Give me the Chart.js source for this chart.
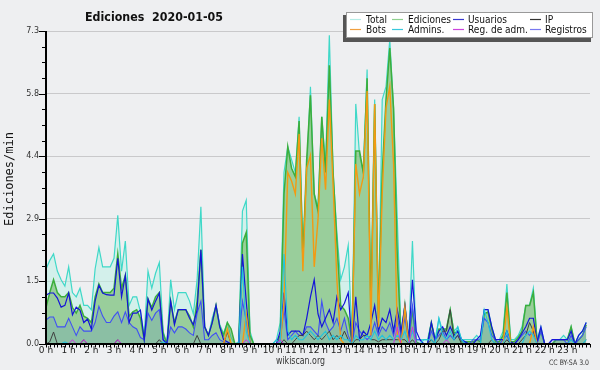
<!DOCTYPE html>
<html>
<head>
<meta charset="utf-8">
<script src="https://cdn.jsdelivr.net/npm/chart.js@4.4.1/dist/chart.umd.min.js"></script>
<style>
  html, body { margin: 0; padding: 0; background: #eeeff1; }
  #box { width: 600px; height: 370px; }
</style>
</head>
<body>
<div id="box"><canvas id="chart" width="600" height="370"></canvas></div>
<script>
// 10-minute slots, 0 h .. 23:50
const minutes = Array.from({ length: 144 }, (_, i) => i * 10);
const hourLabels = ['0 h','1 h','2 h','3 h','4 h','5 h','6 h','7 h','8 h','9 h','10 h','11 h',
  '12 h','13 h','14 h','15 h','16 h','17 h','18 h','19 h','20 h','21 h','22 h','23 h'];
const yTicks = [0, 1.46, 2.92, 4.38, 5.84, 7.3];
const yTickLabels = ['0.0', '1.5', '2.9', '4.4', '5.8', '7.3'];

const total = [
  1.75,1.95,2.1,1.7,1.5,1.35, 1.8,1.2,1.1,1.3,0.9,0.9,
  0.8,1.75,2.25,1.8,1.8,1.8, 2.0,3.0,1.7,2.4,0.9,1.1,
  1.1,0.75,0.2,1.7,1.3,1.65, 1.9,0.3,0,1.5,0.8,1.2,
  1.2,1.2,1.0,0.7,1.5,3.2, 0.4,0.2,0.6,0.9,0.45,0.25,
  0.5,0.15,0,0.05,3.1,3.35, 0.3,0,0,0,0,0,
  0,0.1,0.5,4.0,4.6,4.3, 4.0,5.3,2.2,4.0,6.0,3.5,
  3.2,5.3,4.2,7.2,4.0,2.6, 1.5,1.8,2.3,0.1,5.6,4.4,
  4.0,6.4,0.6,5.7,0.6,5.7, 6.0,7.1,5.5,2.9,0.2,0.9,
  0.1,2.4,0.1,0.1,0.1,0.1, 0.5,0.1,0.6,0.3,0.35,0.8,
  0.3,0.4,0.1,0.1,0.1,0.1, 0.2,0.1,0.8,0.8,0.4,0.1,
  0.1,0.3,1.4,0.1,0.1,0.2, 0.4,0.9,0.9,1.3,0.1,0.4,
  0,0,0,0.1,0.1,0.2, 0.1,0.4,0,0.2,0.3,0.5
];
const ediciones = [
  0.85,1.2,1.5,1.2,1.1,1.1, 1.2,0.85,0.72,0.9,0.65,0.6,
  0.5,1.1,1.4,1.2,1.2,1.2, 1.3,2.1,1.3,1.6,0.65,0.75,
  0.8,0.6,0.1,1.05,0.85,1.1, 1.2,0.25,0,1.0,0.5,0.8,
  0.8,0.8,0.65,0.4,1.0,2.2, 0.4,0.2,0.5,0.9,0.4,0.2,
  0.5,0.35,0,0,2.35,2.6, 0.2,0,0,0,0,0,
  0,0,0.2,3.5,4.6,4.1, 3.9,5.2,2.0,4.3,5.8,3.5,
  3.1,5.3,4.0,6.5,4.0,2.4, 0.9,0.8,0.6,0.05,4.5,4.5,
  4.0,6.2,0.8,5.6,0.6,4.0, 5.7,6.9,5.5,2.0,0.1,0.9,
  0.05,0.8,0.05,0,0,0, 0.5,0.1,0.35,0.35,0.35,0.8,
  0.25,0.3,0.05,0.05,0.05,0.05, 0.1,0.05,0.7,0.75,0.35,0.05,
  0.05,0.2,1.2,0.05,0.05,0.15, 0.3,0.9,0.9,1.2,0.05,0.3,
  0,0,0,0.1,0.1,0.1, 0.1,0.4,0,0.1,0.2,0.45
];
const usuarios = [
  1.14,1.19,1.19,1.07,0.86,0.9, 1.19,0.68,0.86,0.79,0.5,0.58,
  0.35,1.0,1.37,1.19,1.15,1.14, 1.14,2.0,1.1,1.6,0.5,0.72,
  0.72,0.79,0.1,1.05,0.79,1.0, 1.19,0.1,0,1.0,0.45,0.8,
  0.8,0.8,0.6,0.45,0.8,2.2, 0.4,0.2,0.5,0.9,0.4,0.1,
  0.05,0,0,0,2.1,1.0, 0,0,0,0,0,0,
  0,0,0.3,1.2,0.2,0.3, 0.3,0.3,0.2,0.6,1.1,1.5,
  0.7,0.4,0.6,0.8,0.5,1.1, 0.8,0.95,1.2,0,1.1,0.1,
  0.3,0.2,0.5,0.9,0.3,0.6, 0.5,0.8,0.3,0.8,0.3,0.9,
  0.1,1.5,0.3,0.1,0,0, 0.5,0.1,0.3,0.4,0.2,0.4,
  0.2,0.3,0.1,0.05,0,0, 0.1,0.2,0.8,0.8,0.4,0.1,
  0.1,0.1,0.3,0.05,0,0.1, 0.25,0.4,0.6,0.6,0.05,0.4,
  0,0,0.1,0.1,0.1,0.1, 0.1,0.3,0,0.2,0.3,0.5
];
const ip = [
  0,0.05,0.28,0,0,0, 0,0,0,0,0.1,0,
  0,0,0,0,0,0, 0,0.1,0,0,0,0,
  0,0,0,0,0,0, 0.1,0,0,0,0,0,
  0,0,0,0,0.2,0, 0,0,0,0,0,0,
  0.28,0,0,0,0,0, 0,0,0,0,0,0,
  0,0,0,0.1,0,0, 0.1,0.2,0.2,0.3,0.2,0.1,
  0.2,0.1,0.2,0.3,0.1,0.2, 0.1,0.3,0.1,0,0.1,0.1,
  0.2,0.2,0.1,0.1,0.05,0.1, 0.1,0.1,0.1,0.1,0.1,0.1,
  0,0.1,0,0,0,0, 0.1,0,0.1,0.3,0.3,0.8,
  0.1,0.2,0,0,0,0, 0,0,0,0,0.1,0,
  0,0,0.1,0,0,0, 0.1,0.2,0.5,0.3,0,0,
  0,0,0,0,0,0, 0,0.1,0,0,0,0.1
];
const bots = [
  0,0,0,0,0,0, 0,0,0,0,0,0,
  0,0,0,0,0,0, 0,0,0,0,0,0,
  0,0,0,0,0,0, 0,0,0,0,0,0,
  0,0,0,0,0,0, 0,0,0,0,0,0,
  0.35,0,0,0,0,0.7, 0,0,0,0,0,0,
  0,0,0,1.0,4.0,3.8, 3.5,4.9,1.7,4.1,4.4,1.8,
  2.9,4.8,3.6,5.7,3.7,1.5, 0.1,0,0,0,4.2,3.5,
  3.9,5.9,0.2,5.6,0.4,3.5, 5.5,6.0,4.2,0.2,0,0.85,
  0,0,0,0,0,0, 0,0,0,0,0,0,
  0,0,0,0,0,0, 0,0,0,0,0,0,
  0,0,0.85,0,0,0, 0,0,0,0.4,0,0,
  0,0,0,0,0,0, 0,0,0,0,0,0
];
const admins = [
  0,0,0,0,0,0.05, 0,0,0,0,0,0,
  0,0,0,0,0,0, 0,0,0,0,0,0,
  0,0,0,0,0,0, 0,0.05,0,0,0,0,
  0,0,0,0,0,0, 0,0,0,0,0,0,
  0,0,0,0,1.8,0.3, 0,0,0,0,0,0,
  0,0.1,0,2.1,0.3,0.1, 0.2,0.1,0.1,0.2,0.3,0.2,
  0.1,0.2,0.3,0.1,0.2,0.1, 0.2,0.1,0.1,0,0.2,0.1,
  0.1,0.2,0.1,0.3,0.1,0.2, 0.1,0.2,0.1,0.2,0.1,0.3,
  0,0.3,0,0,0.1,0.1, 0.1,0,0.6,0.2,0.1,0.3,
  0.1,0.4,0.1,0,0,0, 0,0,0.8,0.5,0.1,0,
  0,0,0.3,0,0,0, 0,0.2,0.3,0.2,0,0,
  0,0,0,0,0,0, 0,0.1,0,0,0,0.1
];
const regAdm = [
  0,0,0,0,0,0, 0,0.1,0,0,0.1,0,
  0,0,0,0,0,0, 0,0.1,0,0,0,0,
  0,0,0,0,0,0, 0,0,0,0,0,0,
  0,0,0,0,0,0, 0,0,0,0,0,0,
  0,0,0,0,0,0.1, 0,0,0,0,0,0,
  0,0,0.1,0,0,0, 0,0,0,0,0,0,
  0,0,0,0,0,0, 0,0,0,0,0,0,
  0,0,0,0,0,0, 0,0,0,0.4,0,0,
  0,0.4,0,0,0,0, 0,0,0,0,0.1,0,
  0,0,0,0,0,0, 0,0,0,0,0,0,
  0,0,0,0,0,0, 0,0,0,0,0,0,
  0,0,0,0,0,0, 0,0,0,0,0,0
];
const registros = [
  0.56,0.63,0.63,0.4,0.4,0.4, 0.6,0.4,0.2,0.4,0.3,0.3,
  0.3,0.5,0.88,0.65,0.5,0.5, 0.65,0.75,0.5,0.75,0.5,0.4,
  0.35,0.15,0.1,0.72,0.55,0.72, 0.8,0.1,0,0.4,0.26,0.4,
  0.4,0.35,0.26,0.2,0.72,1.0, 0.1,0.1,0.2,0.26,0.1,0.05,
  0,0,0,0,1.0,0.55, 0,0,0,0,0,0,
  0,0,0.1,0.8,0.1,0.2, 0.3,0.2,0.2,0.4,0.4,0.3,
  0.2,1.0,0.5,0.3,0.4,0.6, 0.3,0.6,0.2,0,0.5,0.3,
  0.2,0.1,0.2,0.5,0.2,0.4, 0.3,0.5,0.2,0.6,0.2,0.6,
  0.1,0.9,0.1,0.1,0,0, 0.3,0.1,0.2,0.3,0.1,0.2,
  0.1,0.2,0.1,0,0,0.1, 0.1,0.1,0.6,0.5,0.2,0.1,
  0,0.1,0.2,0,0,0.1, 0.2,0.3,0.2,0.3,0,0.3,
  0,0,0.1,0.1,0.1,0.1, 0,0.2,0,0.1,0.2,0.4
];

const legendItems = [
  ['Total', '#b4ece6'], ['Ediciones', '#8fd08f'], ['Usuarios', '#3838d0'], ['IP', '#333333'],
  ['Bots', '#f0a040'], ['Admins.', '#38c8dc'], ['Reg. de adm.', '#cc44dd'], ['Registros', '#7878f0']
];

const pts = arr => arr.map((v, i) => ({ x: minutes[i], y: v }));

function line(label, data, color, width, fill, order) {
  return {
    label, data: pts(data), borderColor: color, borderWidth: width,
    backgroundColor: fill || 'transparent', fill: fill ? 'origin' : false,
    pointRadius: 0, tension: 0, order
  };
}

// text squeezed to a measured width, the original face is narrower than DejaVu
function fitText(c, txt, x, y, w) {
  const m = c.measureText(txt).width;
  c.save();
  c.translate(x, y);
  c.scale(w / m, 1);
  c.fillText(txt, 0, 0);
  c.restore();
}

const decor = {
  id: 'decor',
  beforeDraw(chart) {
    const c = chart.ctx;
    c.save();
    c.fillStyle = '#eeeff1';
    c.fillRect(0, 0, chart.width, chart.height);
    c.restore();
  },
  afterDraw(chart) {
    const c = chart.ctx;
    const xs = chart.scales.x, ys = chart.scales.y;
    const a = chart.chartArea;
    c.save();
    // minor ticks
    c.strokeStyle = '#000';
    c.lineWidth = 1;
    c.beginPath();
    for (let m = 0; m <= 1440; m += 10) {
      const px = Math.round(xs.getPixelForValue(m)) + 0.5;
      c.moveTo(px, a.bottom); c.lineTo(px, a.bottom + 3.5);
    }
    for (let k = 0; k <= 20; k++) {
      const py = Math.round(ys.getPixelForValue(k * 0.365)) + 0.5;
      c.moveTo(a.left, py); c.lineTo(a.left - (k % 4 === 0 ? 7 : 4), py);
    }
    c.stroke();
    // axes
    c.lineWidth = 2;
    c.beginPath();
    c.moveTo(a.left, a.top); c.lineTo(a.left, a.bottom + 1);
    c.moveTo(a.left - 1, a.bottom); c.lineTo(a.right, a.bottom);
    c.stroke();

    // title
    c.fillStyle = '#111';
    c.textBaseline = 'alphabetic';
    c.textAlign = 'left';
    c.font = 'bold 12.5px "DejaVu Sans"';
    fitText(c, 'Ediciones  2020-01-05', 85, 21, 138);

    // y title
    c.save();
    c.translate(13, 179);
    c.rotate(-Math.PI / 2);
    c.textAlign = 'center';
    c.font = '12px "DejaVu Sans Mono"';
    c.fillText('Ediciones/min', 0, 0);
    c.restore();

    // footer
    c.fillStyle = '#333';
    c.font = '10px "DejaVu Sans"';
    fitText(c, 'wikiscan.org', 276, 364, 49);
    c.font = '7.5px "DejaVu Sans"';
    fitText(c, 'CC BY-SA 3.0', 549, 365, 40);

    // legend box with shadow
    c.fillStyle = '#555';
    c.fillRect(343, 15, 248, 27);
    c.fillStyle = '#fff';
    c.fillRect(346, 12, 247, 26);
    c.strokeStyle = '#999';
    c.lineWidth = 1;
    c.strokeRect(346.5, 12.5, 246, 25);
    const cols = [350, 392, 453, 530];
    const textX = [366, 408, 468, 545];
    c.font = '10.5px "DejaVu Sans"';
    legendItems.forEach(([name, col], i) => {
      const r = Math.floor(i / 4), k = i % 4;
      const y = 19.5 + r * 10;
      c.strokeStyle = col;
      c.lineWidth = 1.2;
      c.beginPath();
      c.moveTo(cols[k], y); c.lineTo(cols[k] + 11, y);
      c.stroke();
      c.fillStyle = '#111';
      const w = c.measureText(name).width * 0.86;
      fitText(c, name, textX[k], y + 3.5, w);
    });
    c.restore();
  }
};

new Chart(document.getElementById('chart'), {
  type: 'line',
  data: {
    datasets: [
      line('Reg. de adm.', regAdm, '#cc33dd', 1, null, 1),
      line('Admins.', admins, '#22c4dc', 1.1, null, 2),
      line('Bots', bots, '#f39a12', 1.4, null, 3),
      line('IP', ip, '#404040', 1, null, 4),
      line('Usuarios', usuarios, '#1414d8', 1.2, null, 5),
      line('Registros', registros, '#4050f4', 1.1, 'rgba(60,110,220,0.15)', 6),
      line('Ediciones', ediciones, '#3cae3c', 1.5, 'rgba(105,178,90,0.55)', 7),
      line('Total', total, '#3fd8c8', 1.2, 'rgba(190,240,230,0.55)', 8)
    ]
  },
  options: {
    responsive: false,
    animation: false,
    layout: { padding: { top: 31, right: 10, left: 0, bottom: 0 } },
    plugins: { legend: { display: false }, title: { display: false }, tooltip: { enabled: false } },
    scales: {
      x: {
        type: 'linear', min: 0, max: 1440,
        afterBuildTicks: s => { s.ticks = hourLabels.map((_, h) => ({ value: h * 60 })); },
        afterFit: s => { s.height = 26; },
        ticks: {
          autoSkip: false, maxRotation: 0, padding: 1,
          color: '#222', font: { family: 'DejaVu Sans', size: 9 },
          callback: v => hourLabels[v / 60] || ''
        },
        grid: { drawOnChartArea: false, drawTicks: false },
        border: { display: false }
      },
      y: {
        min: 0, max: 7.3,
        afterBuildTicks: s => { s.ticks = yTicks.map(v => ({ value: v })); },
        afterFit: s => { s.width = 46; },
        ticks: {
          padding: 7, color: '#333', font: { family: 'DejaVu Sans', size: 8 },
          callback: (v, i) => yTickLabels[i]
        },
        grid: { color: '#c9c9cb', drawTicks: false },
        border: { display: false }
      }
    }
  },
  plugins: [decor]
});
</script>
</body>
</html>
